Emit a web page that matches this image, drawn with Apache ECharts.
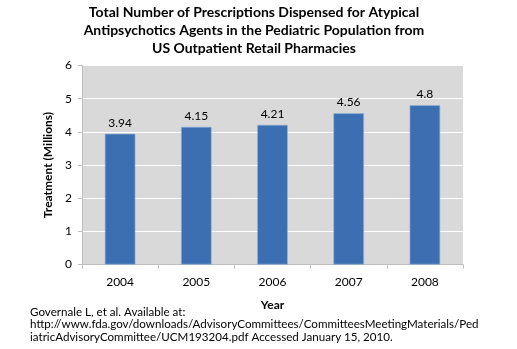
<!DOCTYPE html>
<html><head><meta charset="utf-8">
<script src="https://cdn.jsdelivr.net/npm/echarts@6/dist/echarts.min.js"></script>
<style>html,body{margin:0;padding:0;background:#fff}#c{width:517px;height:349px}</style>
</head><body><div id="c"></div>
<script>
var categories = ['2004','2005','2006','2007','2008'];
var values = [3.94, 4.15, 4.21, 4.56, 4.8];
var titleLines = ['Total Number of Prescriptions Dispensed for Atypical','Antipsychotics Agents in the Pediatric Population from','US Outpatient Retail Pharmacies'];
var footLines = ['Governale L, et al. Available at:','http://www.fda.gov/downloads/AdvisoryCommittees/CommitteesMeetingMaterials/Ped','iatricAdvisoryCommittee/UCM193204.pdf Accessed January 15, 2010.'];
var FONT = 'Lato, "Liberation Sans", sans-serif';
var chart = echarts.init(document.getElementById('c'), null, {renderer:'canvas'});
var graphics = [];
titleLines.forEach(function(t,i){
  graphics.push({type:'text', x:254, y:12+18*i, style:{text:t, font:'bold 14px '+FONT, fill:'#000', textAlign:'center', textVerticalAlign:'middle'}});
});
footLines.forEach(function(t,i){
  graphics.push({type:'text', x:30, y:312+12.5*i, style:{text:t, font:'11.6px '+FONT, fill:'#000', textAlign:'left', textVerticalAlign:'middle'}});
});
chart.setOption({
  animation:false,
  grid:{left:82, right:54, top:65.5, bottom:84.5, show:true, backgroundColor:'#d9d9d9', borderWidth:0},
  graphic: graphics,
  xAxis:{type:'category', data:categories,
    axisLine:{show:true, lineStyle:{color:'#bfbfbf'}},
    axisTick:{show:true, length:4, lineStyle:{color:'#bfbfbf'}},
    axisLabel:{fontFamily:FONT, fontSize:12, color:'#000', margin:12},
    name:'Year', nameLocation:'middle', nameGap:35,
    nameTextStyle:{fontFamily:FONT, fontSize:12, fontWeight:'bold', color:'#000'}},
  yAxis:{type:'value', min:0, max:6, interval:1,
    axisLine:{show:true, lineStyle:{color:'#bfbfbf'}},
    axisTick:{show:true, length:4, lineStyle:{color:'#bfbfbf'}},
    splitLine:{show:true, lineStyle:{color:'#ffffff', width:1}},
    axisLabel:{fontFamily:FONT, fontSize:12, color:'#000', margin:10},
    name:'Treatment (Millions)', nameLocation:'middle', nameGap:28,
    nameTextStyle:{fontFamily:FONT, fontSize:12, fontWeight:'bold', color:'#000'}},
  series:[{type:'bar', data:values, barWidth:'40%',
    itemStyle:{color:'#3c6fb1', borderColor:'#8fb0d8', borderWidth:0.6},
    label:{show:true, position:'top', distance:5, fontFamily:FONT, fontSize:12, color:'#000'}}]
});
</script></body></html>
